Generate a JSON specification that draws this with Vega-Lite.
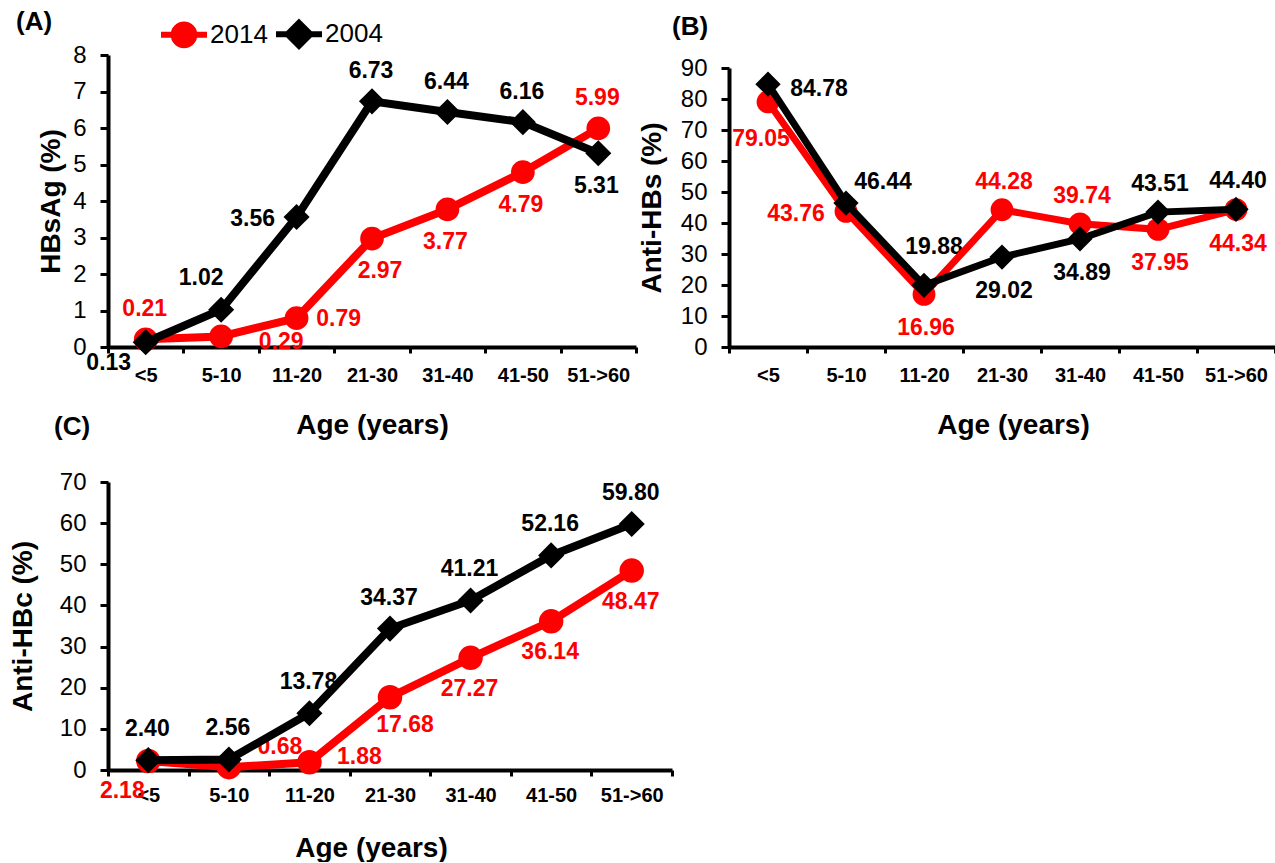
{
  "$schema": "https://vega.github.io/schema/vega-lite/v6.json",
  "background": "white",
  "padding": {"left": 9, "top": 8, "right": 0, "bottom": 0},
  "datasets": {
    "hb": [
      {"panel": "A", "year": "2014", "age": "<5", "value": 0.21},
      {"panel": "A", "year": "2014", "age": "5-10", "value": 0.29},
      {"panel": "A", "year": "2014", "age": "11-20", "value": 0.79},
      {"panel": "A", "year": "2014", "age": "21-30", "value": 2.97},
      {"panel": "A", "year": "2014", "age": "31-40", "value": 3.77},
      {"panel": "A", "year": "2014", "age": "41-50", "value": 4.79},
      {"panel": "A", "year": "2014", "age": "51->60", "value": 5.99},
      {"panel": "A", "year": "2004", "age": "<5", "value": 0.13},
      {"panel": "A", "year": "2004", "age": "5-10", "value": 1.02},
      {"panel": "A", "year": "2004", "age": "11-20", "value": 3.56},
      {"panel": "A", "year": "2004", "age": "21-30", "value": 6.73},
      {"panel": "A", "year": "2004", "age": "31-40", "value": 6.44},
      {"panel": "A", "year": "2004", "age": "41-50", "value": 6.16},
      {"panel": "A", "year": "2004", "age": "51->60", "value": 5.31},
      {"panel": "B", "year": "2014", "age": "<5", "value": 79.05},
      {"panel": "B", "year": "2014", "age": "5-10", "value": 43.76},
      {"panel": "B", "year": "2014", "age": "11-20", "value": 16.96},
      {"panel": "B", "year": "2014", "age": "21-30", "value": 44.28},
      {"panel": "B", "year": "2014", "age": "31-40", "value": 39.74},
      {"panel": "B", "year": "2014", "age": "41-50", "value": 37.95},
      {"panel": "B", "year": "2014", "age": "51->60", "value": 44.34},
      {"panel": "B", "year": "2004", "age": "<5", "value": 84.78},
      {"panel": "B", "year": "2004", "age": "5-10", "value": 46.44},
      {"panel": "B", "year": "2004", "age": "11-20", "value": 19.88},
      {"panel": "B", "year": "2004", "age": "21-30", "value": 29.02},
      {"panel": "B", "year": "2004", "age": "31-40", "value": 34.89},
      {"panel": "B", "year": "2004", "age": "41-50", "value": 43.51},
      {"panel": "B", "year": "2004", "age": "51->60", "value": 44.40},
      {"panel": "C", "year": "2014", "age": "<5", "value": 2.18},
      {"panel": "C", "year": "2014", "age": "5-10", "value": 0.68},
      {"panel": "C", "year": "2014", "age": "11-20", "value": 1.88},
      {"panel": "C", "year": "2014", "age": "21-30", "value": 17.68},
      {"panel": "C", "year": "2014", "age": "31-40", "value": 27.27},
      {"panel": "C", "year": "2014", "age": "41-50", "value": 36.14},
      {"panel": "C", "year": "2014", "age": "51->60", "value": 48.47},
      {"panel": "C", "year": "2004", "age": "<5", "value": 2.40},
      {"panel": "C", "year": "2004", "age": "5-10", "value": 2.56},
      {"panel": "C", "year": "2004", "age": "11-20", "value": 13.78},
      {"panel": "C", "year": "2004", "age": "21-30", "value": 34.37},
      {"panel": "C", "year": "2004", "age": "31-40", "value": 41.21},
      {"panel": "C", "year": "2004", "age": "41-50", "value": 52.16},
      {"panel": "C", "year": "2004", "age": "51->60", "value": 59.80}
    ]
  },
  "data": {"name": "hb"},
  "config": {
    "view": {"stroke": null},
    "font": "Liberation Sans",
    "axis": {
      "domainColor": "#000000", "domainWidth": 4, "tickColor": "#000000", "tickWidth": 3,
      "labelColor": "#000000", "titleColor": "#000000", "grid": false,
      "labelFont": "Liberation Sans", "titleFont": "Liberation Sans", "titleFontWeight": "bold", "titleFontSize": 28
    },
    "axisX": {"labelFontSize": 20, "labelFontWeight": "bold", "labelAngle": 0, "tickSize": 6, "labelPadding": 12, "titleBaseline": "middle", "titleY": 78},
    "axisY": {"labelFontSize": 24, "labelFontWeight": "normal", "tickSize": 8, "labelPadding": 14, "titleBaseline": "middle", "titleAngle": -90},
    "title": {"font": "Liberation Sans", "fontSize": 26, "fontWeight": "bold", "color": "#000000", "anchor": "start", "frame": "group"}
  },
  "bounds": "flush",
  "columns": 2,
  "spacing": {"row": 135, "column": 57},
  "resolve": {"scale": {"color": "independent"}, "legend": {"color": "independent"}},
  "concat": [
    {
      "width": 528, "height": 292,
      "title": {"text": "(A)", "dx": -92, "dy": 44, "offset": 17},
      "transform": [{"filter": "datum.panel === 'A'"}],
      "encoding": {
        "x": {"field": "age", "type": "nominal", "sort": ["<5", "5-10", "11-20", "21-30", "31-40", "41-50", "51->60"], "scale": {"type": "band", "paddingInner": 0, "paddingOuter": 0}, "axis": {"title": "Age (years)", "tickBand": "extent", "titleX": 264}},
        "y": {"field": "value", "type": "quantitative", "scale": {"domain": [0, 8], "nice": false}, "axis": {"title": "HBsAg (%)", "values": [0, 1, 2, 3, 4, 5, 6, 7, 8], "titleX": -57}}
      },
      "layer": [
        {"transform": [{"filter": "indexof(['2004|21-30','2004|31-40','2004|41-50','2014|<5','2014|51->60'], datum.year + '|' + datum.age) >= 0"}],
         "mark": {"type": "text", "dx": -1, "dy": -30, "fontSize": 23, "fontWeight": "bold", "baseline": "middle", "align": "center"},
         "encoding": {"text": {"field": "value", "type": "quantitative", "format": ".2f"}, "color": {"condition": {"test": "datum.year === '2014'", "value": "#ff0000"}, "value": "#000000"}}},
        {"transform": [{"filter": "indexof(['2004|51->60','2014|31-40','2014|41-50'], datum.year + '|' + datum.age) >= 0"}],
         "mark": {"type": "text", "dx": -2, "dy": 33, "fontSize": 23, "fontWeight": "bold", "baseline": "middle", "align": "center"},
         "encoding": {"text": {"field": "value", "type": "quantitative", "format": ".2f"}, "color": {"condition": {"test": "datum.year === '2014'", "value": "#ff0000"}, "value": "#000000"}}},
        {"transform": [{"filter": "datum.year + '|' + datum.age === '2014|21-30'"}],
         "mark": {"type": "text", "dx": 8, "dy": 32, "fontSize": 23, "fontWeight": "bold", "baseline": "middle", "align": "center"},
         "encoding": {"text": {"field": "value", "type": "quantitative", "format": ".2f"}, "color": {"value": "#ff0000"}}},
        {"transform": [{"filter": "datum.year + '|' + datum.age === '2004|5-10'"}],
         "mark": {"type": "text", "dx": -20, "dy": -32, "fontSize": 23, "fontWeight": "bold", "baseline": "middle", "align": "center"},
         "encoding": {"text": {"field": "value", "type": "quantitative", "format": ".2f"}, "color": {"value": "#000000"}}},
        {"transform": [{"filter": "datum.year + '|' + datum.age === '2004|11-20'"}],
         "mark": {"type": "text", "dx": -44, "dy": 2, "fontSize": 23, "fontWeight": "bold", "baseline": "middle", "align": "center"},
         "encoding": {"text": {"field": "value", "type": "quantitative", "format": ".2f"}, "color": {"value": "#000000"}}},
        {"transform": [{"filter": "datum.year + '|' + datum.age === '2014|11-20'"}],
         "mark": {"type": "text", "dx": 42, "dy": 1, "fontSize": 23, "fontWeight": "bold", "baseline": "middle", "align": "center"},
         "encoding": {"text": {"field": "value", "type": "quantitative", "format": ".2f"}, "color": {"value": "#ff0000"}}},
        {"transform": [{"filter": "datum.year + '|' + datum.age === '2014|5-10'"}],
         "mark": {"type": "text", "dx": 60, "dy": 6, "fontSize": 23, "fontWeight": "bold", "baseline": "middle", "align": "center"},
         "encoding": {"text": {"field": "value", "type": "quantitative", "format": ".2f"}, "color": {"value": "#ff0000"}}},
        {"transform": [{"filter": "datum.year + '|' + datum.age === '2004|<5'"}],
         "mark": {"type": "text", "dx": -37, "dy": 21, "fontSize": 23, "fontWeight": "bold", "baseline": "middle", "align": "center"},
         "encoding": {"text": {"field": "value", "type": "quantitative", "format": ".2f"}, "color": {"value": "#000000"}}},
        {"transform": [{"filter": "datum.year === '2014'"}],
         "mark": {"type": "line", "strokeWidth": 8},
         "encoding": {"order": {"value": null}, "color": {"field": "year", "type": "nominal", "scale": {"domain": ["2014", "2004"], "range": ["#ff0000", "#000000"]},
           "legend": {"orient": "none", "legendX": 50, "legendY": -47, "direction": "horizontal", "title": null, "labelFontSize": 26, "labelFont": "Liberation Sans", "labelFontWeight": "normal", "labelColor": "#000000", "labelOffset": 0, "symbolSize": 2116, "symbolStrokeWidth": 6, "columnPadding": -4, "padding": 0,
             "encode": {"symbols": {"update": {
               "shape": {"signal": "datum.value === '2014' ? 'M-1,0H1M0.45,0A0.45,0.45,0,1,1,-0.45,0A0.45,0.45,0,1,1,0.45,0Z' : 'M-1,0H1M0,-0.5L0.5,0L0,0.5L-0.5,0Z'"},
               "fill": {"signal": "datum.value === '2014' ? '#ff0000' : '#000000'"},
               "stroke": {"signal": "datum.value === '2014' ? '#ff0000' : '#000000'"},
               "strokeWidth": {"value": 6}, "fillOpacity": {"value": 1}, "strokeOpacity": {"value": 1}, "opacity": {"value": 1}, "size": {"value": 2116}}}}}}}},
        {"transform": [{"filter": "datum.year === '2014'"}],
         "mark": {"type": "point", "shape": "circle", "filled": true, "size": 560, "opacity": 1},
         "encoding": {"color": {"field": "year", "type": "nominal", "scale": {"domain": ["2014", "2004"], "range": ["#ff0000", "#000000"]}}}},
        {"transform": [{"filter": "datum.year === '2004'"}],
         "mark": {"type": "line", "strokeWidth": 8},
         "encoding": {"order": {"value": null}, "color": {"field": "year", "type": "nominal", "scale": {"domain": ["2014", "2004"], "range": ["#ff0000", "#000000"]}}}},
        {"transform": [{"filter": "datum.year === '2004'"}],
         "mark": {"type": "point", "shape": "diamond", "filled": true, "size": 680, "opacity": 1},
         "encoding": {"color": {"field": "year", "type": "nominal", "scale": {"domain": ["2014", "2004"], "range": ["#ff0000", "#000000"]}}}}
      ]
    },
    {
      "width": 546, "height": 292,
      "title": {"text": "(B)", "dx": -57, "offset": 15},
      "transform": [{"filter": "datum.panel === 'B'"}],
      "encoding": {
        "x": {"field": "age", "type": "nominal", "sort": ["<5", "5-10", "11-20", "21-30", "31-40", "41-50", "51->60"], "scale": {"type": "band", "paddingInner": 0, "paddingOuter": 0}, "axis": {"title": "Age (years)", "tickBand": "extent", "titleX": 284}},
        "y": {"field": "value", "type": "quantitative", "scale": {"domain": [0, 90], "nice": false, "range": [292, 13]}, "axis": {"title": "Anti-HBs (%)", "values": [0, 10, 20, 30, 40, 50, 60, 70, 80, 90], "titleX": -77}}
      },
      "layer": [
        {"transform": [{"filter": "datum.year + '|' + datum.age === '2004|<5'"}],
         "mark": {"type": "text", "dx": 51, "dy": 5, "fontSize": 23, "fontWeight": "bold", "baseline": "middle", "align": "center"},
         "encoding": {"text": {"field": "value", "type": "quantitative", "format": ".2f"}, "color": {"value": "#000000"}}},
        {"transform": [{"filter": "datum.year + '|' + datum.age === '2014|<5'"}],
         "mark": {"type": "text", "dx": -7, "dy": 37, "fontSize": 23, "fontWeight": "bold", "baseline": "middle", "align": "center"},
         "encoding": {"text": {"field": "value", "type": "quantitative", "format": ".2f"}, "color": {"value": "#ff0000"}}},
        {"transform": [{"filter": "datum.year + '|' + datum.age === '2004|5-10'"}],
         "mark": {"type": "text", "dx": 37, "dy": -21, "fontSize": 23, "fontWeight": "bold", "baseline": "middle", "align": "center"},
         "encoding": {"text": {"field": "value", "type": "quantitative", "format": ".2f"}, "color": {"value": "#000000"}}},
        {"transform": [{"filter": "datum.year + '|' + datum.age === '2014|5-10'"}],
         "mark": {"type": "text", "dx": -50, "dy": 3, "fontSize": 23, "fontWeight": "bold", "baseline": "middle", "align": "center"},
         "encoding": {"text": {"field": "value", "type": "quantitative", "format": ".2f"}, "color": {"value": "#ff0000"}}},
        {"transform": [{"filter": "datum.year + '|' + datum.age === '2004|11-20'"}],
         "mark": {"type": "text", "dx": 10, "dy": -38, "fontSize": 23, "fontWeight": "bold", "baseline": "middle", "align": "center"},
         "encoding": {"text": {"field": "value", "type": "quantitative", "format": ".2f"}, "color": {"value": "#000000"}}},
        {"transform": [{"filter": "indexof(['2014|11-20','2004|21-30','2004|31-40','2014|41-50','2014|51->60'], datum.year + '|' + datum.age) >= 0"}],
         "mark": {"type": "text", "dx": 2, "dy": 34, "fontSize": 23, "fontWeight": "bold", "baseline": "middle", "align": "center"},
         "encoding": {"text": {"field": "value", "type": "quantitative", "format": ".2f"}, "color": {"condition": {"test": "datum.year === '2014'", "value": "#ff0000"}, "value": "#000000"}}},
        {"transform": [{"filter": "indexof(['2014|21-30','2014|31-40','2004|41-50','2004|51->60'], datum.year + '|' + datum.age) >= 0"}],
         "mark": {"type": "text", "dx": 2, "dy": -28, "fontSize": 23, "fontWeight": "bold", "baseline": "middle", "align": "center"},
         "encoding": {"text": {"field": "value", "type": "quantitative", "format": ".2f"}, "color": {"condition": {"test": "datum.year === '2014'", "value": "#ff0000"}, "value": "#000000"}}},
        {"transform": [{"filter": "datum.year === '2014'"}],
         "mark": {"type": "line", "strokeWidth": 7},
         "encoding": {"order": {"value": null}, "color": {"field": "year", "type": "nominal", "scale": {"domain": ["2014", "2004"], "range": ["#ff0000", "#000000"]}, "legend": null}}},
        {"transform": [{"filter": "datum.year === '2014'"}],
         "mark": {"type": "point", "shape": "circle", "filled": true, "size": 520, "opacity": 1},
         "encoding": {"color": {"field": "year", "type": "nominal", "scale": {"domain": ["2014", "2004"], "range": ["#ff0000", "#000000"]}, "legend": null}}},
        {"transform": [{"filter": "datum.year === '2004'"}],
         "mark": {"type": "line", "strokeWidth": 7},
         "encoding": {"order": {"value": null}, "color": {"field": "year", "type": "nominal", "scale": {"domain": ["2014", "2004"], "range": ["#ff0000", "#000000"]}, "legend": null}}},
        {"transform": [{"filter": "datum.year === '2004'"}],
         "mark": {"type": "point", "shape": "diamond", "filled": true, "size": 640, "opacity": 1},
         "encoding": {"color": {"field": "year", "type": "nominal", "scale": {"domain": ["2014", "2004"], "range": ["#ff0000", "#000000"]}, "legend": null}}}
      ]
    },
    {
      "width": 564, "height": 288,
      "title": {"text": "(C)", "dx": -54, "dy": 12, "offset": 42},
      "transform": [{"filter": "datum.panel === 'C'"}],
      "encoding": {
        "x": {"field": "age", "type": "nominal", "sort": ["<5", "5-10", "11-20", "21-30", "31-40", "41-50", "51->60"], "scale": {"type": "band", "paddingInner": 0, "paddingOuter": 0}, "axis": {"title": "Age (years)", "tickBand": "extent", "titleX": 263, "labelPadding": 9}},
        "y": {"field": "value", "type": "quantitative", "scale": {"domain": [0, 70], "nice": false}, "axis": {"title": "Anti-HBc (%)", "values": [0, 10, 20, 30, 40, 50, 60, 70], "titleX": -85}}
      },
      "layer": [
        {"transform": [{"filter": "datum.year === '2004'"}],
         "mark": {"type": "text", "dx": -1, "dy": -31, "fontSize": 23, "fontWeight": "bold", "baseline": "middle", "align": "center"},
         "encoding": {"text": {"field": "value", "type": "quantitative", "format": ".2f"}, "color": {"value": "#000000"}}},
        {"transform": [{"filter": "indexof(['2014|31-40','2014|41-50','2014|51->60'], datum.year + '|' + datum.age) >= 0"}],
         "mark": {"type": "text", "dx": -1, "dy": 31, "fontSize": 23, "fontWeight": "bold", "baseline": "middle", "align": "center"},
         "encoding": {"text": {"field": "value", "type": "quantitative", "format": ".2f"}, "color": {"value": "#ff0000"}}},
        {"transform": [{"filter": "datum.year + '|' + datum.age === '2014|21-30'"}],
         "mark": {"type": "text", "dx": 15, "dy": 28, "fontSize": 23, "fontWeight": "bold", "baseline": "middle", "align": "center"},
         "encoding": {"text": {"field": "value", "type": "quantitative", "format": ".2f"}, "color": {"value": "#ff0000"}}},
        {"transform": [{"filter": "datum.year + '|' + datum.age === '2014|11-20'"}],
         "mark": {"type": "text", "dx": 50, "dy": -5, "fontSize": 23, "fontWeight": "bold", "baseline": "middle", "align": "center"},
         "encoding": {"text": {"field": "value", "type": "quantitative", "format": ".2f"}, "color": {"value": "#ff0000"}}},
        {"transform": [{"filter": "datum.year + '|' + datum.age === '2014|5-10'"}],
         "mark": {"type": "text", "dx": 51, "dy": -20, "fontSize": 23, "fontWeight": "bold", "baseline": "middle", "align": "center"},
         "encoding": {"text": {"field": "value", "type": "quantitative", "format": ".2f"}, "color": {"value": "#ff0000"}}},
        {"transform": [{"filter": "datum.year + '|' + datum.age === '2014|<5'"}],
         "mark": {"type": "text", "dx": -26, "dy": 30, "fontSize": 23, "fontWeight": "bold", "baseline": "middle", "align": "center"},
         "encoding": {"text": {"field": "value", "type": "quantitative", "format": ".2f"}, "color": {"value": "#ff0000"}}},
        {"transform": [{"filter": "datum.year === '2014'"}],
         "mark": {"type": "line", "strokeWidth": 8},
         "encoding": {"order": {"value": null}, "color": {"field": "year", "type": "nominal", "scale": {"domain": ["2014", "2004"], "range": ["#ff0000", "#000000"]}, "legend": null}}},
        {"transform": [{"filter": "datum.year === '2014'"}],
         "mark": {"type": "point", "shape": "circle", "filled": true, "size": 600, "opacity": 1},
         "encoding": {"color": {"field": "year", "type": "nominal", "scale": {"domain": ["2014", "2004"], "range": ["#ff0000", "#000000"]}, "legend": null}}},
        {"transform": [{"filter": "datum.year === '2004'"}],
         "mark": {"type": "line", "strokeWidth": 8},
         "encoding": {"order": {"value": null}, "color": {"field": "year", "type": "nominal", "scale": {"domain": ["2014", "2004"], "range": ["#ff0000", "#000000"]}, "legend": null}}},
        {"transform": [{"filter": "datum.year === '2004'"}],
         "mark": {"type": "point", "shape": "diamond", "filled": true, "size": 680, "opacity": 1},
         "encoding": {"color": {"field": "year", "type": "nominal", "scale": {"domain": ["2014", "2004"], "range": ["#ff0000", "#000000"]}, "legend": null}}}
      ]
    }
  ]
}
